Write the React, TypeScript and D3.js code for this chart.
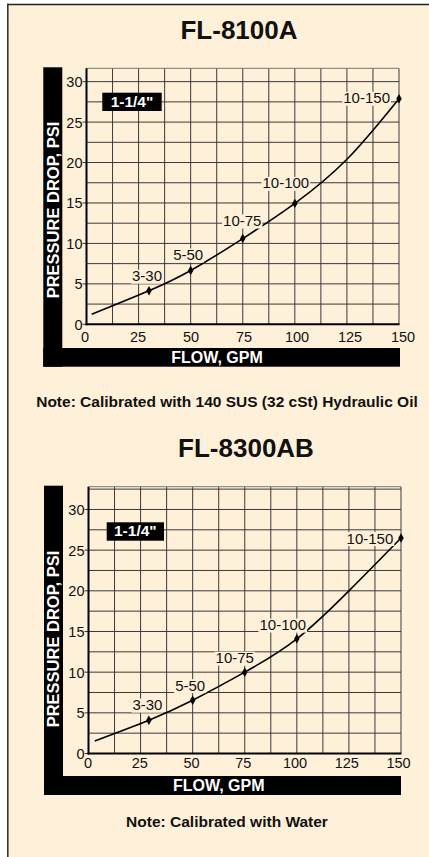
import React from "react";
import * as d3 from "d3";

// ---------- data ----------
const X_TICKS = [0, 25, 50, 75, 100, 125, 150];
const Y_TICKS = [0, 5, 10, 15, 20, 25, 30];
const MARK_LABELS = ["3-30", "5-50", "10-75", "10-100", "10-150"];

// FL-8100A (hydraulic oil)
const A_FLOW = [2.5, 30, 50, 75, 100, 125, 150];
const A_DROP = [1.25, 4.15, 6.65, 10.6, 14.95, 20.4, 27.9];
const A_MARK_FLOW = [30, 50, 75, 100, 150];
const A_MARK_DROP = [4.15, 6.65, 10.6, 14.95, 27.9];

// FL-8300AB (water)
const B_FLOW = [3, 29, 50, 75, 100, 125, 150];
const B_DROP = [1.55, 4.1, 6.55, 10.0, 14.1, 20.0, 26.5];
const B_MARK_FLOW = [29, 50, 75, 100, 150];
const B_MARK_DROP = [4.1, 6.55, 10.0, 14.1, 26.5];

// ---------- style ----------
const BG = "#FFF0D9";
const FONT = "'Liberation Sans', Arial, Helvetica, sans-serif";
const GRID = "#3a3a3a";

const charW: Record<string, number> = { "-": 0.333, "/": 0.278, '"': 0.474 };
function textW(s: string, size: number) {
  let w = 0;
  for (const c of s) w += charW[c] ?? 0.556;
  return w * size;
}

type Cfg = {
  title: string;
  titleX: number;
  titleY: number;
  flow: number[];
  drop: number[];
  markFlow: number[];
  markDrop: number[];
  x0: number;
  x1: number;
  yZero: number;
  yTopPx: number;
  yTopVal: number;
  lblX0: number;
  lblX1: number;
  xLblY: number;
  barX: number;
  barBottom: number;
  hBarTop: number;
  barRight: number;
  yTitleCy: number;
  xTitleCx: number;
  sizeBox: [number, number, number, number];
  dx: number[];
  dy: number[];
  note: string;
  noteY: number;
};

function Chart({ c }: { c: Cfg }) {
  const x = d3.scaleLinear().domain([0, 150]).range([c.x0, c.x1]);
  const xl = d3.scaleLinear().domain([0, 150]).range([c.lblX0, c.lblX1]);
  const y = d3.scaleLinear().domain([0, c.yTopVal]).range([c.yZero, c.yTopPx]);
  const pts = c.flow.map((f, i) => [f, c.drop[i]] as [number, number]);
  const line = d3
    .line<[number, number]>()
    .x((d) => x(d[0]))
    .y((d) => y(d[1]))
    .curve(d3.curveNatural);
  const xGrid = d3.range(12.5, 150.01, 12.5);
  const yGrid = d3.range(2.5, c.yTopVal, 2.5);
  const diamond = d3.symbol().type(d3.symbolDiamond).size(26)() as string;
  const [bx, by, bw, bh] = c.sizeBox;
  const barW = 19;
  return (
    <g>
      <text
        x={c.titleX}
        y={c.titleY}
        textAnchor="middle"
        fontFamily={FONT}
        fontWeight="bold"
        fontSize={26}
        fill="#111"
      >
        {c.title}
      </text>
      {/* L shaped black bar */}
      <rect x={c.barX} y={c.yTopPx - 1} width={barW} height={c.barBottom - c.yTopPx + 1} fill="#000" />
      <rect x={c.barX} y={c.hBarTop} width={c.barRight - c.barX} height={c.barBottom - c.hBarTop} fill="#000" />
      <text
        transform={`translate(${c.barX + barW / 2 + 5.8},${c.yTitleCy}) rotate(-90)`}
        textAnchor="middle"
        fontFamily={FONT}
        fontWeight="bold"
        fontSize={16.5}
        fill="#fff"
      >
        PRESSURE DROP, PSI
      </text>
      <text
        x={c.xTitleCx}
        y={(c.hBarTop + c.barBottom) / 2 + 5.8}
        textAnchor="middle"
        fontFamily={FONT}
        fontWeight="bold"
        fontSize={16}
        fill="#fff"
      >
        FLOW, GPM
      </text>
      {/* grid */}
      {xGrid.map((v) => (
        <line key={"gx" + v} x1={x(v)} x2={x(v)} y1={c.yTopPx} y2={c.yZero} stroke={GRID} strokeWidth={1} />
      ))}
      {yGrid.map((v) => (
        <line key={"gy" + v} x1={x(0)} x2={c.x1} y1={y(v)} y2={y(v)} stroke={GRID} strokeWidth={1} />
      ))}
      <line x1={c.x0} x2={c.x1} y1={c.yTopPx} y2={c.yTopPx} stroke="#777" strokeWidth={1} />
      {/* y ticks */}
      {Y_TICKS.map((v) => (
        <line key={"yt" + v} x1={c.x0 - 4} x2={c.x0} y1={y(v)} y2={y(v)} stroke={GRID} strokeWidth={1} />
      ))}
      {/* axes */}
      <line x1={c.x0} x2={c.x0} y1={c.yTopPx} y2={c.yZero + 1} stroke="#000" strokeWidth={2} />
      <line x1={c.x0 - 1} x2={c.x1 + 0.5} y1={c.yZero} y2={c.yZero} stroke="#000" strokeWidth={2} />
      {/* tick labels */}
      {Y_TICKS.map((v) => (
        <text
          key={"yl" + v}
          x={c.x0 - 4}
          y={y(v) + 5.5}
          textAnchor="end"
          fontFamily={FONT}
          fontSize={14.5}
          fill="#111"
        >
          {v}
        </text>
      ))}
      {X_TICKS.map((v) => (
        <text
          key={"xl" + v}
          x={xl(v)}
          y={c.xLblY}
          textAnchor="middle"
          fontFamily={FONT}
          fontSize={14.5}
          fill="#111"
        >
          {v}
        </text>
      ))}
      {/* size box */}
      <rect x={bx} y={by} width={bw} height={bh} fill="#000" />
      <text
        x={bx + bw / 2}
        y={by + bh - 4.3}
        textAnchor="middle"
        fontFamily={FONT}
        fontWeight="bold"
        fontSize={15.5}
        fill="#fff"
      >
        1-1/4"
      </text>
      {/* curve */}
      <path d={line(pts) as string} fill="none" stroke="#000" strokeWidth={1.6} />
      {c.markFlow.map((f, i) => {
        const px = x(f);
        const py = y(c.markDrop[i]);
        const lab = MARK_LABELS[i];
        const last = i === c.markFlow.length - 1;
        const w = textW(lab, 15);
        const tx = px + c.dx[i];
        const ty = py + c.dy[i];
        const rx = last ? tx - w - 1 : tx - w / 2 - 1;
        return (
          <g key={"m" + i}>
            <rect x={rx} y={ty - 11.5} width={w + 2} height={14} fill={BG} />
            <text
              x={tx}
              y={ty}
              textAnchor={last ? "end" : "middle"}
              fontFamily={FONT}
              fontSize={15}
              fill="#111"
            >
              {lab}
            </text>
            <path d={diamond} transform={`translate(${px},${py})`} fill="#000" />
          </g>
        );
      })}
      <text
        x={227}
        y={c.noteY}
        textAnchor="middle"
        fontFamily={FONT}
        fontWeight="bold"
        fontSize={15.5}
        fill="#111"
      >
        {c.note}
      </text>
    </g>
  );
}

const TOP: Cfg = {
  title: "FL-8100A",
  titleX: 239,
  titleY: 39.3,
  flow: A_FLOW,
  drop: A_DROP,
  markFlow: A_MARK_FLOW,
  markDrop: A_MARK_DROP,
  x0: 86.5,
  x1: 399,
  yZero: 324.3,
  yTopPx: 68.3,
  yTopVal: 31.65,
  lblX0: 85,
  lblX1: 403,
  xLblY: 341.5,
  barX: 43.3,
  barBottom: 366.7,
  hBarTop: 348,
  barRight: 400,
  yTitleCy: 210,
  xTitleCx: 217,
  sizeBox: [102.3, 92.7, 59.4, 18.3],
  dx: [-2, -2.5, -0.5, -9, -9],
  dy: [-9.5, -10.5, -12.5, -15, 4.6],
  note: "Note: Calibrated with 140 SUS (32 cSt) Hydraulic Oil",
  noteY: 406.7,
};

const BOTTOM: Cfg = {
  title: "FL-8300AB",
  titleX: 246,
  titleY: 457.3,
  flow: B_FLOW,
  drop: B_DROP,
  markFlow: B_MARK_FLOW,
  markDrop: B_MARK_DROP,
  x0: 88.5,
  x1: 401,
  yZero: 753.5,
  yTopPx: 486.7,
  yTopVal: 32.8,
  lblX0: 88,
  lblX1: 398.5,
  xLblY: 768.3,
  barX: 44,
  barBottom: 795,
  hBarTop: 776,
  barRight: 401,
  yTitleCy: 639,
  xTitleCx: 218.7,
  sizeBox: [106.7, 522.3, 57.3, 18.4],
  dx: [-1.5, -2.5, -10, -14, -7.7],
  dy: [-10, -9.6, -9, -8.7, 5.6],
  note: "Note: Calibrated with Water",
  noteY: 826.7,
};

export default function App() {
  return (
    <svg
      width={429}
      height={857}
      style={{ position: "absolute", left: 0, top: 0, display: "block" }}
    >
      <rect x={0} y={0} width={429} height={857} fill="#fff" />
      <rect x={8} y={4.5} width={421} height={853} fill={BG} />
      <line x1={7} x2={429} y1={4.5} y2={4.5} stroke="#222" strokeWidth={1.6} />
      <line x1={7.8} x2={7.8} y1={3.7} y2={857} stroke="#333" strokeWidth={1.6} />
      <Chart c={TOP} />
      <Chart c={BOTTOM} />
    </svg>
  );
}
